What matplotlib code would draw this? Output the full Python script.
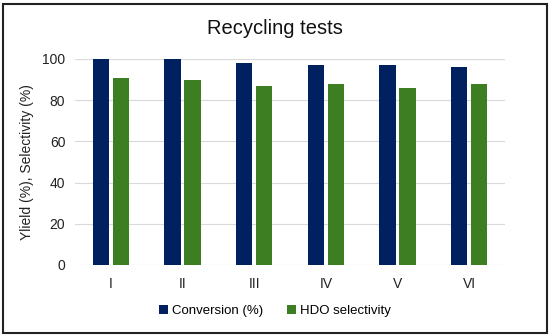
import numpy as np
import matplotlib.pyplot as plt
from matplotlib.patches import Rectangle

runs = ['I', 'II', 'III', 'IV', 'V', 'VI']
conversion = [100, 100, 98, 97, 97, 96]
selectivity = [91, 90, 87, 88, 86, 88]

blue = '#002060'
green = '#3E7E22'

plt.rcParams['font.family'] = 'Liberation Sans'

fig = plt.figure(figsize=(5.5, 3.36), dpi=100)
ax = fig.add_axes([75 / 550, 1 - 265 / 336, 430 / 550, 206 / 336])

x = np.arange(len(runs))
w = 0.23
ax.bar(x - w / 2 - 0.025, conversion, w, color=blue, label='Conversion (%)', zorder=3)
ax.bar(x + w / 2 + 0.025, selectivity, w, color=green, label='HDO selectivity', zorder=3)

ax.set_xlim(-0.5, len(runs) - 0.5)
ax.set_ylim(0, 100)
ax.set_yticks(range(0, 101, 20))
ax.set_xticks(x)
ax.set_xticklabels(runs)
ax.yaxis.grid(True, color='#d9d9d9', linewidth=0.8, zorder=0)
for s in ax.spines.values():
    s.set_visible(False)
ax.tick_params(length=0, labelsize=10, colors='#222222')
ax.tick_params(axis='x', pad=9)
ax.tick_params(axis='y', pad=7)
ax.set_ylabel('Ylield (%), Selectivity (%)', fontsize=10, color='#222222', labelpad=6)

fig.text(0.5, 1 - 28 / 336, 'Recycling tests', ha='center', va='center', fontsize=14.5, color='#111111')
fig.legend(loc='center', bbox_to_anchor=(0.5, 1 - 311 / 336), ncol=2, frameon=False,
           fontsize=9.5, handlelength=0.7, handleheight=0.7, handletextpad=0.3, columnspacing=1.8)

fig.patches.append(Rectangle((3 / 550, 3 / 336), 544 / 550, 329 / 336, transform=fig.transFigure,
                             fill=False, edgecolor='#222222', linewidth=1.5))

fig.savefig('out.png', dpi=100)
